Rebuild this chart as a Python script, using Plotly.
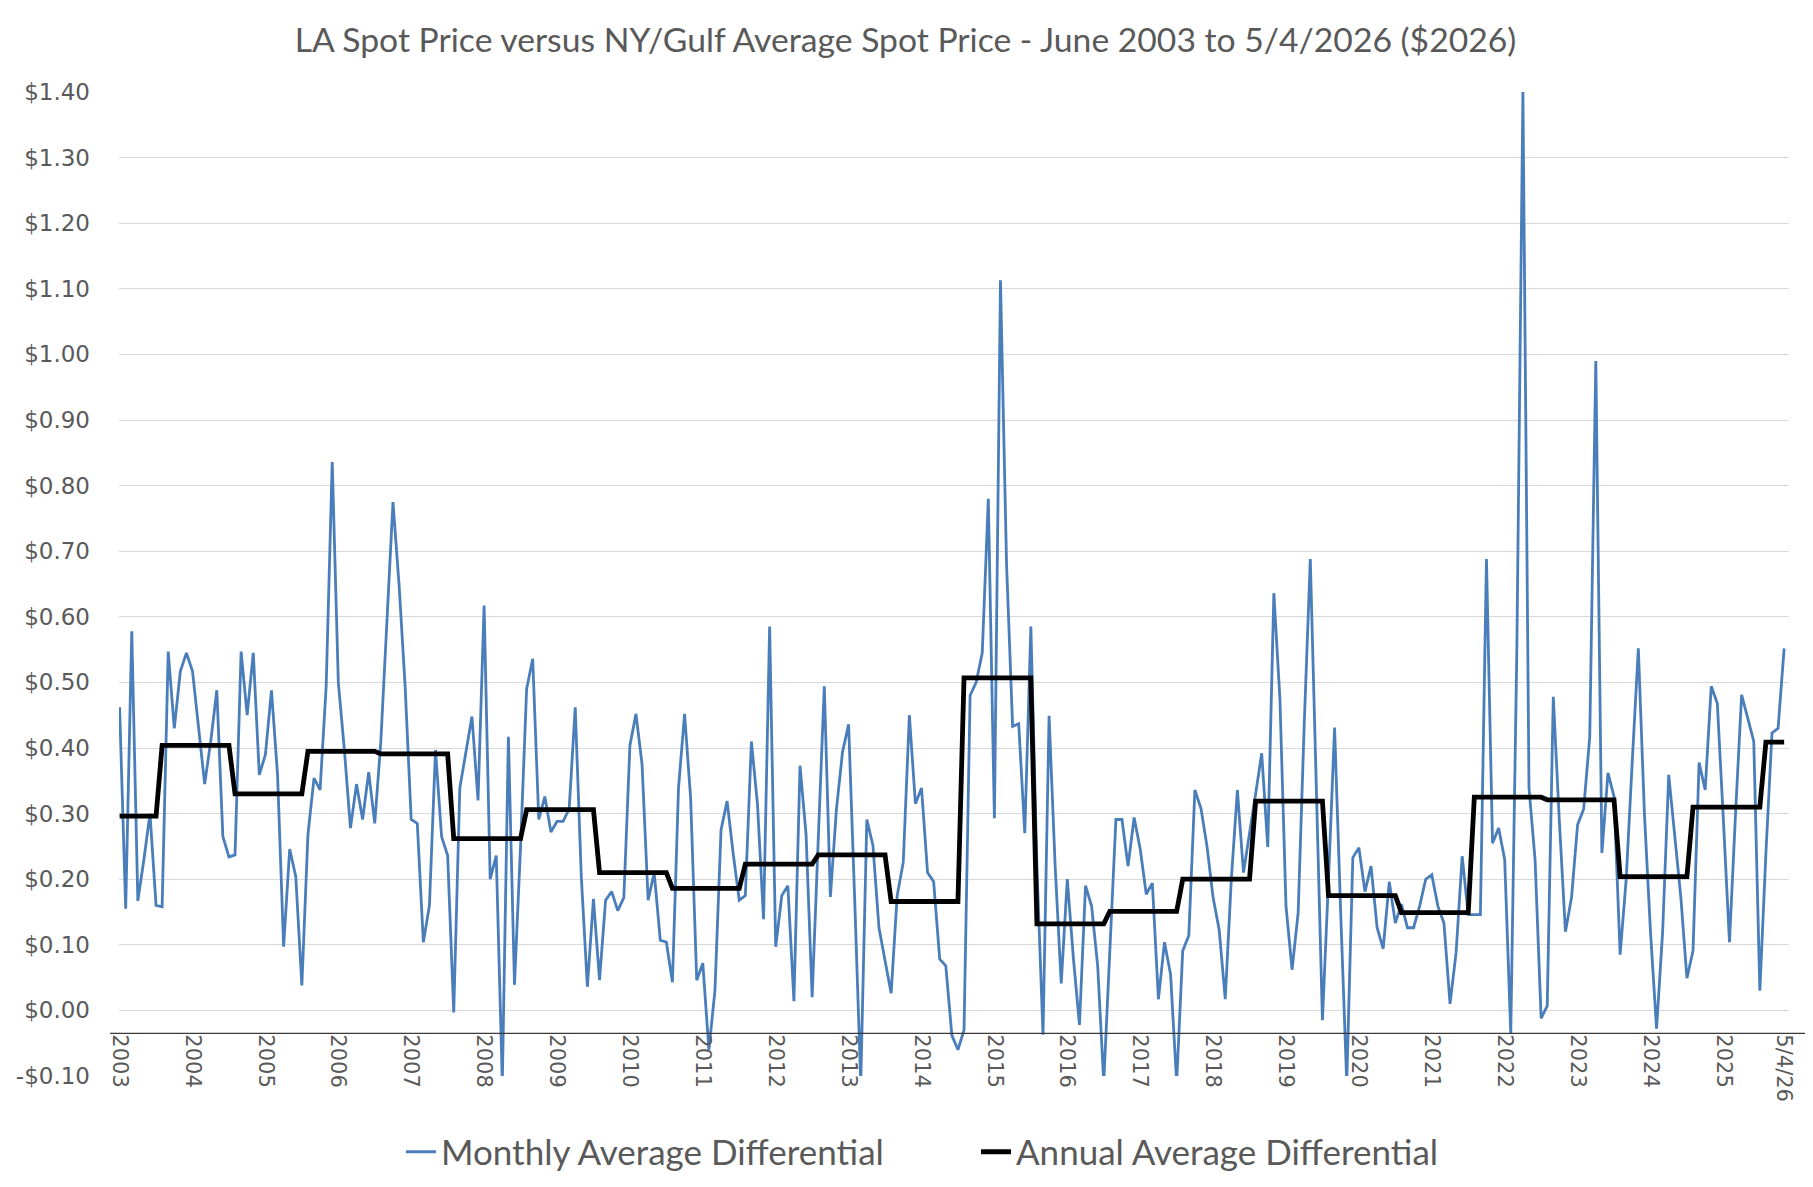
import pandas as pd
import plotly.graph_objects as go

# ---------------- data ----------------
monthly_diff = [
    0.462, 0.155, 0.578, 0.167, 0.23, 0.30, 0.16,                      # 2003 Jun-Dec
    0.158, 0.547, 0.43, 0.517, 0.545, 0.517, 0.436, 0.345, 0.41, 0.488, 0.265, 0.234,   # 2004
    0.237, 0.547, 0.45, 0.545, 0.359, 0.39, 0.488, 0.359, 0.097, 0.246, 0.204, 0.038,   # 2005
    0.268, 0.354, 0.336, 0.494, 0.836, 0.50, 0.397, 0.278, 0.345, 0.291, 0.363, 0.285,  # 2006
    0.41, 0.585, 0.775, 0.649, 0.494, 0.291, 0.285, 0.104, 0.16, 0.397, 0.265, 0.236,   # 2007
    -0.003, 0.339, 0.394, 0.448, 0.32, 0.617, 0.20, 0.236, -0.11, 0.417, 0.039, 0.25,   # 2008
    0.49, 0.536, 0.291, 0.326, 0.272, 0.288, 0.288, 0.307, 0.462, 0.204, 0.036, 0.17,   # 2009
    0.046, 0.168, 0.181, 0.152, 0.172, 0.404, 0.452, 0.375, 0.168, 0.21, 0.107, 0.104,  # 2010
    0.043, 0.339, 0.452, 0.323, 0.046, 0.072, -0.06, 0.03, 0.275, 0.319, 0.239, 0.168,  # 2011
    0.175, 0.41, 0.314, 0.139, 0.585, 0.097, 0.175, 0.19, 0.014, 0.373, 0.268, 0.02,    # 2012
    0.26, 0.494, 0.173, 0.307, 0.394, 0.436, 0.17, -0.11, 0.291, 0.252, 0.126, 0.078,   # 2013
    0.026, 0.175, 0.226, 0.45, 0.315, 0.339, 0.21, 0.196, 0.078, 0.068, -0.038, -0.06,  # 2014
    -0.03, 0.48, 0.50, 0.545, 0.78, 0.293, 1.113, 0.68, 0.433, 0.437, 0.27, 0.585,      # 2015
    0.22, -0.037, 0.449, 0.22, 0.041, 0.20, 0.08, -0.022, 0.19, 0.159, 0.068, -0.11,    # 2016
    0.10, 0.291, 0.291, 0.22, 0.294, 0.246, 0.177, 0.194, 0.017, 0.104, 0.055, -0.11,   # 2017
    0.091, 0.114, 0.336, 0.308, 0.25, 0.172, 0.123, 0.017, 0.20, 0.336, 0.21, 0.268,    # 2018
    0.33, 0.392, 0.249, 0.636, 0.475, 0.159, 0.062, 0.149, 0.436, 0.688, 0.33, -0.015,  # 2019
    0.20, 0.431, 0.15, -0.11, 0.233, 0.248, 0.181, 0.22, 0.126, 0.094, 0.196, 0.133,    # 2020
    0.162, 0.126, 0.126, 0.159, 0.20, 0.207, 0.159, 0.133, 0.01, 0.088, 0.235, 0.146,   # 2021
    0.146, 0.146, 0.688, 0.255, 0.278, 0.23, -0.035, 0.55, 1.40, 0.339, 0.23, -0.012,   # 2022
    0.007, 0.478, 0.288, 0.12, 0.172, 0.283, 0.307, 0.417, 0.99, 0.24, 0.362, 0.326,    # 2023
    0.085, 0.20, 0.38, 0.552, 0.30, 0.12, -0.028, 0.12, 0.359, 0.262, 0.172, 0.049,     # 2024
    0.091, 0.378, 0.336, 0.494, 0.468, 0.29, 0.104, 0.30, 0.481, 0.446, 0.41, 0.03,     # 2025
    0.24, 0.423, 0.43, 0.552,                                            # 2026 Jan-Apr
]

years = list(range(2003, 2027))
annual_avg = [0.296, 0.404, 0.33, 0.395, 0.391, 0.262, 0.306, 0.21, 0.186, 0.223,
              0.237, 0.166, 0.507, 0.132, 0.151, 0.20, 0.319, 0.175, 0.149, 0.325,
              0.321, 0.204, 0.31, 0.409]

x_tick_labels = [str(y) for y in range(2003, 2026)] + ["5/4/26"]
y_tick_values = [round(-0.10 + 0.10 * k, 2) for k in range(16)]
y_tick_labels = ["-$0.10", "$0.00", "$0.10", "$0.20", "$0.30", "$0.40", "$0.50", "$0.60",
                 "$0.70", "$0.80", "$0.90", "$1.00", "$1.10", "$1.20", "$1.30", "$1.40"]

# categories (one per month, June 2003 onward)
months = pd.period_range("2003-06", periods=len(monthly_diff), freq="M")
categories = [m.strftime("%b %Y") for m in months]
annual_by_month = [annual_avg[years.index(m.year)] for m in months]

tick_positions = [categories[i] for i in range(0, 12 * 23, 12)] + [categories[-1]]

# ---------------- figure ----------------
GRAY = "#595959"
W, H = 1813, 1187
fig = go.Figure()
fig.add_trace(go.Scatter(
    x=categories, y=monthly_diff, mode="lines",
    name="Monthly Average Differential", legend="legend",
    line=dict(color="#4A7EBB", width=2.8),
))
fig.add_trace(go.Scatter(
    x=categories, y=annual_by_month, mode="lines",
    name="Annual Average Differential", legend="legend2",
    line=dict(color="#000000", width=4.8),
))

axis_cross = -0.035
fig.add_shape(type="line", xref="paper", yref="y",
              x0=-0.0054, x1=1.02, y0=axis_cross, y1=axis_cross,
              line=dict(color="#3a3a3a", width=1.4), layer="above")

legend_font = dict(family="Lato", size=35, color=GRAY)
fig.update_layout(
    width=W, height=H,
    paper_bgcolor="white", plot_bgcolor="white",
    margin=dict(l=111, r=32, t=84, b=119, autoexpand=False),
    title=dict(
        text="LA Spot Price versus NY/Gulf Average Spot Price - June 2003 to 5/4/2026 ($2026)",
        x=0.5 - 9 / W, xref="container", xanchor="center",
        y=1 - 32 / H, yref="container", yanchor="middle",
        font=dict(family="Lato", size=33.7, color=GRAY),
    ),
    xaxis=dict(
        type="category", range=[-0.1, len(categories) - 1 + 0.8],
        tickvals=tick_positions, ticktext=x_tick_labels,
        tickangle=90, showgrid=False, zeroline=False, showline=False, ticks="",
        anchor="free", position=(axis_cross + 0.10) / 1.50, automargin=False,
        tickfont=dict(family="DejaVu Sans", size=21, color=GRAY),
    ),
    yaxis=dict(
        range=[-0.10, 1.40], tickvals=y_tick_values, ticktext=y_tick_labels,
        showgrid=True, gridcolor="#d9d9d9", gridwidth=1, automargin=False,
        zeroline=False, showline=False, ticks="", ticklabelstandoff=28,
        tickfont=dict(family="DejaVu Sans", size=23, color=GRAY),
    ),
    legend=dict(
        orientation="h", x=393 / W, xanchor="left", xref="container",
        y=1 - 1144 / H, yref="container", yanchor="middle",
        font=legend_font, bgcolor="rgba(0,0,0,0)",
    ),
    legend2=dict(
        orientation="h", x=968 / W, xanchor="left", xref="container",
        y=1 - 1144 / H, yref="container", yanchor="middle",
        font=legend_font, bgcolor="rgba(0,0,0,0)",
    ),
    showlegend=True,
)

fig.write_html("out.html")
